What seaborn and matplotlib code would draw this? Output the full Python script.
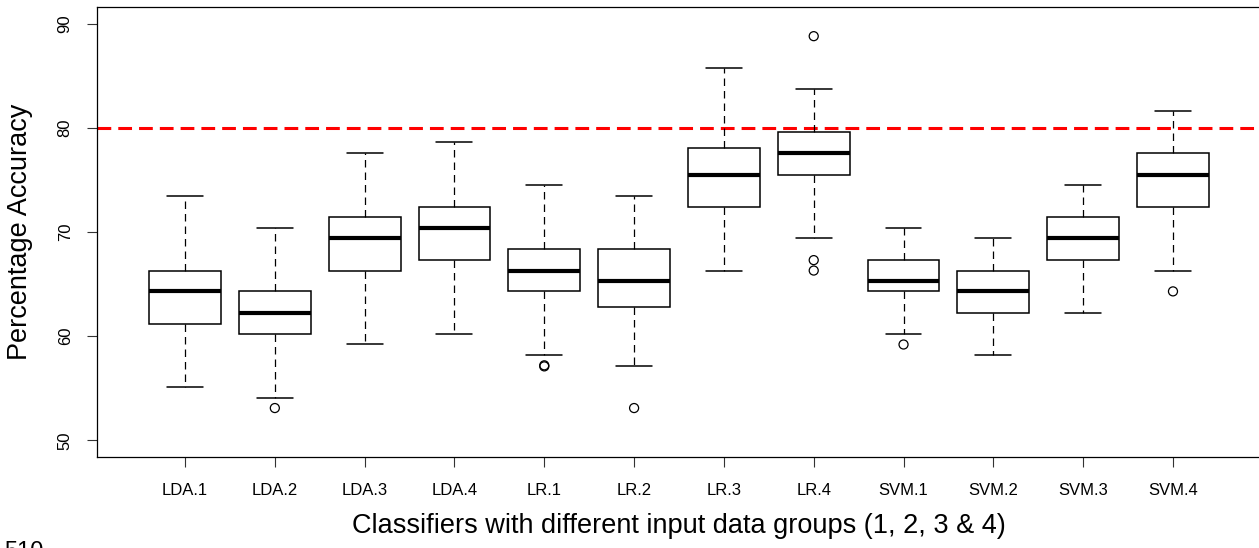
import matplotlib

matplotlib.use("Agg")
import matplotlib.pyplot as plt
import pandas as pd
import seaborn as sns

# five-number summaries
classifiers = ["LDA.1", "LDA.2", "LDA.3", "LDA.4", "LR.1", "LR.2",
               "LR.3", "LR.4", "SVM.1", "SVM.2", "SVM.3", "SVM.4"]
whisker_low = [55.1, 54.1, 59.2, 60.2, 58.2, 57.1, 66.3, 69.4, 60.2, 58.2, 62.2, 66.3]
q1 = [61.2, 60.2, 66.3, 67.3, 64.3, 62.8, 72.4, 75.5, 64.3, 62.2, 67.3, 72.4]
median = [64.3, 62.2, 69.4, 70.4, 66.3, 65.3, 75.5, 77.6, 65.3, 64.3, 69.4, 75.5]
q3 = [66.3, 64.3, 71.4, 72.4, 68.4, 68.4, 78.1, 79.6, 67.3, 66.3, 71.4, 77.6]
whisker_high = [73.5, 70.4, 77.6, 78.6, 74.5, 73.5, 85.7, 83.7, 70.4, 69.4, 74.5, 81.6]

outlier_groups = ["LDA.2", "LR.1", "LR.1", "LR.2", "LR.4", "LR.4", "LR.4", "SVM.1", "SVM.4"]
outlier_values = [53.1, 57.1, 57.2, 53.1, 88.8, 67.3, 66.3, 59.2, 64.3]

threshold = 80

# long table: the five summary values per group give exactly these quartiles
rows = []
for i, name in enumerate(classifiers):
    for v in (whisker_low[i], q1[i], median[i], q3[i], whisker_high[i]):
        rows.append({"classifier": name, "accuracy": v})
df = pd.DataFrame(rows)
outliers = pd.DataFrame({"classifier": outlier_groups, "accuracy": outlier_values})

sns.set_style("ticks")
plt.rcParams["font.family"] = ["Liberation Sans", "DejaVu Sans"]
plt.rcParams["text.color"] = "black"
plt.rcParams["axes.labelcolor"] = "black"
plt.rcParams["xtick.labelcolor"] = "black"
plt.rcParams["ytick.labelcolor"] = "black"

fig = plt.figure(figsize=(12.59, 5.48), dpi=100)
W, H = 1259, 548
ax = fig.add_axes([97 / W, 1 - 457 / H, (1261 - 97) / W, (457 - 7) / H])

sns.boxplot(
    data=df, x="classifier", y="accuracy", order=classifiers,
    whis=(0, 100), width=0.8, color="white", linecolor="black",
    linewidth=1.1, showfliers=False,
    medianprops={"linewidth": 3.0, "color": "black"},
    whiskerprops={"linewidth": 0.9, "linestyle": (0, (6, 4))},
    capprops={"linewidth": 1.1},
    ax=ax,
)
sns.stripplot(
    data=outliers, x="classifier", y="accuracy", order=classifiers,
    jitter=False, marker="o", size=6.5, color="black",
    linewidth=0.9, edgecolor="black", ax=ax,
)
for coll in ax.collections:
    coll.set_facecolor("none")
    coll.set_edgecolor("black")

ax.axhline(threshold, color="#ff0000", linewidth=2.2, linestyle=(0, (4.5, 2.3)), zorder=1)

ax.set_xlim(-0.98, 11.98)
ax.set_ylim(48.4, 91.6)
ax.set_yticks([50, 60, 70, 80, 90])
for side in ("top", "right", "left", "bottom"):
    ax.spines[side].set_visible(True)
    ax.spines[side].set_color("black")
    ax.spines[side].set_linewidth(0.9)

ax.tick_params(axis="both", length=7.5, width=0.8, color="#333333", labelsize=12)
ax.tick_params(axis="y", labelrotation=90, pad=10)
ax.tick_params(axis="x", pad=11)
for lab in ax.get_yticklabels():
    lab.set_va("center")

ax.set_xlabel("Classifiers with different input data groups (1, 2, 3 & 4)", fontsize=19.5, labelpad=11)
ax.set_ylabel("Percentage Accuracy", fontsize=19.5, labelpad=18)

# cropped text from the page below the figure
fig.text(4 / W, 1 - 541 / H, "510", fontsize=17, va="top", ha="left")

fig.savefig("out.png", dpi=100)
